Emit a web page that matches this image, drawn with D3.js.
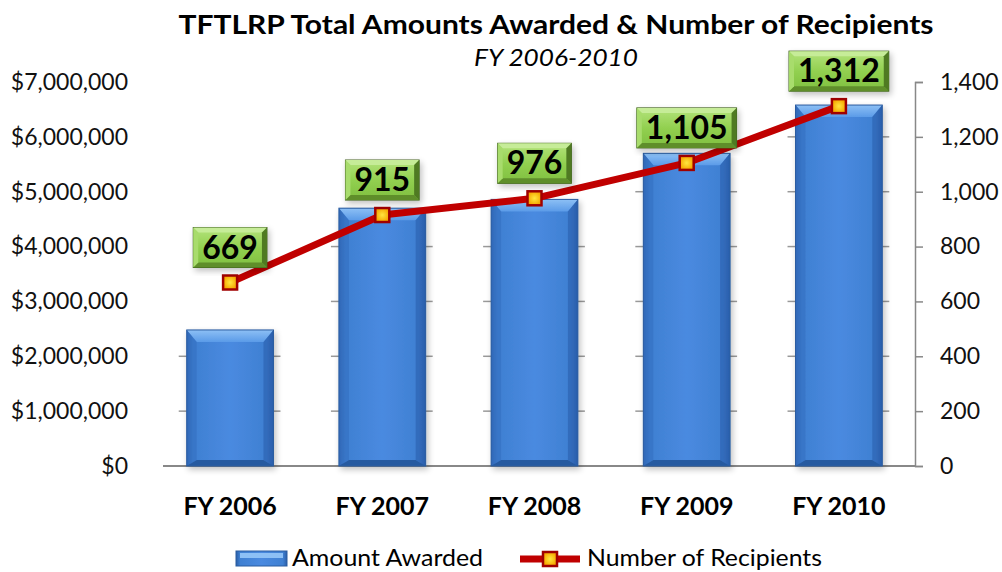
<!DOCTYPE html>
<html><head><meta charset="utf-8">
<script src="https://cdn.jsdelivr.net/npm/d3@7/dist/d3.min.js"></script>
<style>body{margin:0;background:#fff;}svg{display:block;font-family:Lato,"Open Sans",sans-serif;}</style>
</head><body><svg id="c" width="1002" height="572"></svg>
<script>
const categories = ["FY 2006","FY 2007","FY 2008","FY 2009","FY 2010"];
const amountAwarded = [2480000, 4700000, 4860000, 5700000, 6580000];
const recipients = [669, 915, 976, 1105, 1312];
const leftTicks = [0,1000000,2000000,3000000,4000000,5000000,6000000,7000000];
const rightTicks = [0,200,400,600,800,1000,1200,1400];
const titleText = "TFTLRP Total Amounts Awarded & Number of Recipients";
const subtitleText = "FY 2006-2010";
const legendLabels = ["Amount Awarded","Number of Recipients"];

const svg = d3.select("#c");
const defs = svg.append("defs");

const gb = defs.append("linearGradient").attr("id","barH").attr("x1","0").attr("x2","1").attr("y1","0").attr("y2","0");
[[0,"#2a5ea8"],[0.08,"#3f80d2"],[0.5,"#4a8ae0"],[0.92,"#3f80d2"],[1,"#2a5ea8"]].forEach(([o,c])=>gb.append("stop").attr("offset",o).attr("stop-color",c));
const gt = defs.append("linearGradient").attr("id","barT").attr("x1","0").attr("x2","0").attr("y1","0").attr("y2","1");
[[0,"#8dc0f5"],[1,"#5b9be8"]].forEach(([o,c])=>gt.append("stop").attr("offset",o).attr("stop-color",c));
const gg = defs.append("linearGradient").attr("id","grn").attr("x1","0").attr("x2","0").attr("y1","0").attr("y2","1");
[[0,"#b4e37c"],[0.5,"#92d050"],[1,"#7fbf3f"]].forEach(([o,c])=>gg.append("stop").attr("offset",o).attr("stop-color",c));
const gm = defs.append("radialGradient").attr("id","mk");
[[0,"#ffe640"],[1,"#f5a800"]].forEach(([o,c])=>gm.append("stop").attr("offset",o).attr("stop-color",c));
const sh = defs.append("filter").attr("id","shadow").attr("x","-20%").attr("y","-20%").attr("width","140%").attr("height","140%");
sh.append("feGaussianBlur").attr("in","SourceAlpha").attr("stdDeviation",3);
sh.append("feOffset").attr("dx",2).attr("dy",3).attr("result","b");
sh.append("feComponentTransfer").append("feFuncA").attr("type","linear").attr("slope",0.25);
const fm = sh.append("feMerge"); fm.append("feMergeNode"); fm.append("feMergeNode").attr("in","SourceGraphic");

const x = d3.scaleBand().domain(categories).range([154,915]).paddingInner(0.43).paddingOuter(0.215);
const y0 = d3.scaleLinear().domain([0,7000000]).range([466,82]);
const y1 = d3.scaleLinear().domain([0,1400]).range([466,82]);

// title
svg.append("text").attr("x",556).attr("y",34).attr("text-anchor","middle")
  .attr("font-size",26).attr("font-weight","bold").attr("fill","#000")
  .attr("textLength",755).attr("lengthAdjust","spacingAndGlyphs").text(titleText);
svg.append("text").attr("x",556).attr("y",66).attr("text-anchor","middle")
  .attr("font-size",23).attr("font-style","italic").attr("fill","#000")
  .attr("textLength",164).attr("lengthAdjust","spacingAndGlyphs").text(subtitleText);

// left axis
const la = svg.append("g").attr("transform","translate(163,0)")
  .call(d3.axisLeft(y0).tickValues(leftTicks).tickSize(0).tickPadding(35).tickFormat(d=>"$"+d3.format(",")(d)));
la.select(".domain").remove();
la.selectAll("text").attr("font-size",23).attr("font-family","Lato,sans-serif").attr("fill","#111");

// right axis
const ra = svg.append("g").attr("transform","translate(915,0)")
  .call(d3.axisRight(y1).tickValues(rightTicks).tickSize(8).tickSizeOuter(8).tickPadding(17).tickFormat(d3.format(",")));
ra.select(".domain").attr("stroke","#888").attr("stroke-width",1.5);
ra.selectAll(".tick line").attr("stroke","#888").attr("stroke-width",1.5);
ra.selectAll("text").attr("font-size",23).attr("font-family","Lato,sans-serif").attr("fill","#111");

// gridline stubs beside bars
const stubs = svg.append("g").attr("stroke","#999").attr("stroke-width",1.5);
categories.forEach((c,i)=>{
  leftTicks.filter(t=>t>0 && t<amountAwarded[i]).forEach(t=>{
    stubs.append("line").attr("x1",x(c)-8).attr("x2",x(c)).attr("y1",y0(t)).attr("y2",y0(t));
    stubs.append("line").attr("x1",x(c)+x.bandwidth()).attr("x2",x(c)+x.bandwidth()+7).attr("y1",y0(t)).attr("y2",y0(t));
  });
});

// baseline
svg.append("line").attr("x1",163).attr("x2",915).attr("y1",y0(0)).attr("y2",y0(0)).attr("stroke","#888").attr("stroke-width",2);

// bars
const bars = svg.append("g");
categories.forEach((c,i)=>{
  const bx = x(c), bw = x.bandwidth(), by = y0(amountAwarded[i]), bh = y0(0)-by;
  const g = bars.append("g").attr("filter","url(#shadow)");
  g.append("rect").attr("x",bx).attr("y",by).attr("width",bw).attr("height",bh).attr("fill","url(#barH)");
  g.append("path").attr("d",`M${bx},${by} L${bx+bw},${by} L${bx+bw-10},${by+12} L${bx+10},${by+12} Z`).attr("fill","url(#barT)");
  g.append("path").attr("d",`M${bx},${by} L${bx+10},${by+12} L${bx+10},${y0(0)-6} L${bx},${y0(0)} Z`).attr("fill","#3570c2").attr("opacity",0.6);
  g.append("path").attr("d",`M${bx+bw},${by} L${bx+bw-10},${by+12} L${bx+bw-10},${y0(0)-6} L${bx+bw},${y0(0)} Z`).attr("fill","#2b5fae").attr("opacity",0.6);
  g.append("path").attr("d",`M${bx},${y0(0)} L${bx+10},${y0(0)-6} L${bx+bw-10},${y0(0)-6} L${bx+bw},${y0(0)} Z`).attr("fill","#285aa0");
  g.append("rect").attr("x",bx).attr("y",by).attr("width",bw).attr("height",bh).attr("fill","none").attr("stroke","#2a5ca0").attr("stroke-width",1);
});

// x labels
svg.append("g").selectAll("text").data(categories).join("text")
  .attr("x",d=>x(d)+x.bandwidth()/2).attr("y",515).attr("text-anchor","middle")
  .attr("font-size",25).attr("font-weight","bold").attr("fill","#000").text(d=>d);

// line
const cx = c=>x(c)+x.bandwidth()/2;
svg.append("path").datum(recipients).attr("fill","none").attr("stroke","#c00000").attr("stroke-width",7)
  .attr("stroke-linejoin","round")
  .attr("d",d3.line().x((d,i)=>cx(categories[i])).y(d=>y1(d)));

// markers
svg.append("g").selectAll("rect").data(recipients).join("rect")
  .attr("x",(d,i)=>cx(categories[i])-7).attr("y",d=>y1(d)-7).attr("width",14).attr("height",14)
  .attr("fill","url(#mk)").attr("stroke","#a00000").attr("stroke-width",2.5);

// labels
const lg = svg.append("g");
recipients.forEach((v,i)=>{
  const px = cx(categories[i]), py = y1(v)-35;
  const t = lg.append("text").attr("x",px).attr("y",py+11).attr("text-anchor","middle")
    .attr("font-size",32).attr("font-weight","bold").attr("fill","#000").text(d3.format(",")(v));
  const w = t.node().getComputedTextLength()+18, h = 40;
  const g = lg.insert("g","text").attr("filter","url(#shadow)");
  g.append("rect").attr("x",px-w/2).attr("y",py-h/2).attr("width",w).attr("height",h).attr("fill","url(#grn)").attr("stroke","#3d5e1c").attr("stroke-width",1);
  g.append("path").attr("d",`M${px-w/2},${py-h/2} L${px+w/2},${py-h/2} L${px+w/2-5},${py-h/2+5} L${px-w/2+5},${py-h/2+5} Z`).attr("fill","#c6ec98");
  g.append("path").attr("d",`M${px-w/2},${py+h/2} L${px+w/2},${py+h/2} L${px+w/2-5},${py+h/2-5} L${px-w/2+5},${py+h/2-5} Z`).attr("fill","#5e8e2c");
  g.append("path").attr("d",`M${px+w/2},${py-h/2} L${px+w/2},${py+h/2} L${px+w/2-5},${py+h/2-5} L${px+w/2-5},${py-h/2+5} Z`).attr("fill","#4f7a24");
  g.append("path").attr("d",`M${px-w/2},${py-h/2} L${px-w/2},${py+h/2} L${px-w/2+5},${py+h/2-5} L${px-w/2+5},${py-h/2+5} Z`).attr("fill","#a8dc6c");
});

// legend
const leg = svg.append("g");
leg.append("rect").attr("x",236).attr("y",551).attr("width",51).attr("height",15).attr("fill","url(#barH)").attr("stroke","#2a5ca0");
leg.append("rect").attr("x",240).attr("y",553).attr("width",43).attr("height",5).attr("fill","#8dc0f5");
leg.append("text").attr("x",292).attr("y",566).attr("font-size",23).attr("fill","#000")
  .attr("textLength",191).attr("lengthAdjust","spacingAndGlyphs").text(legendLabels[0]);
leg.append("line").attr("x1",520).attr("x2",580).attr("y1",559).attr("y2",559).attr("stroke","#c00000").attr("stroke-width",7);
leg.append("rect").attr("x",543).attr("y",552).attr("width",14).attr("height",14).attr("fill","url(#mk)").attr("stroke","#a00000").attr("stroke-width",2.5);
leg.append("text").attr("x",587).attr("y",566).attr("font-size",23).attr("fill","#000")
  .attr("textLength",235).attr("lengthAdjust","spacingAndGlyphs").text(legendLabels[1]);
</script></body></html>
